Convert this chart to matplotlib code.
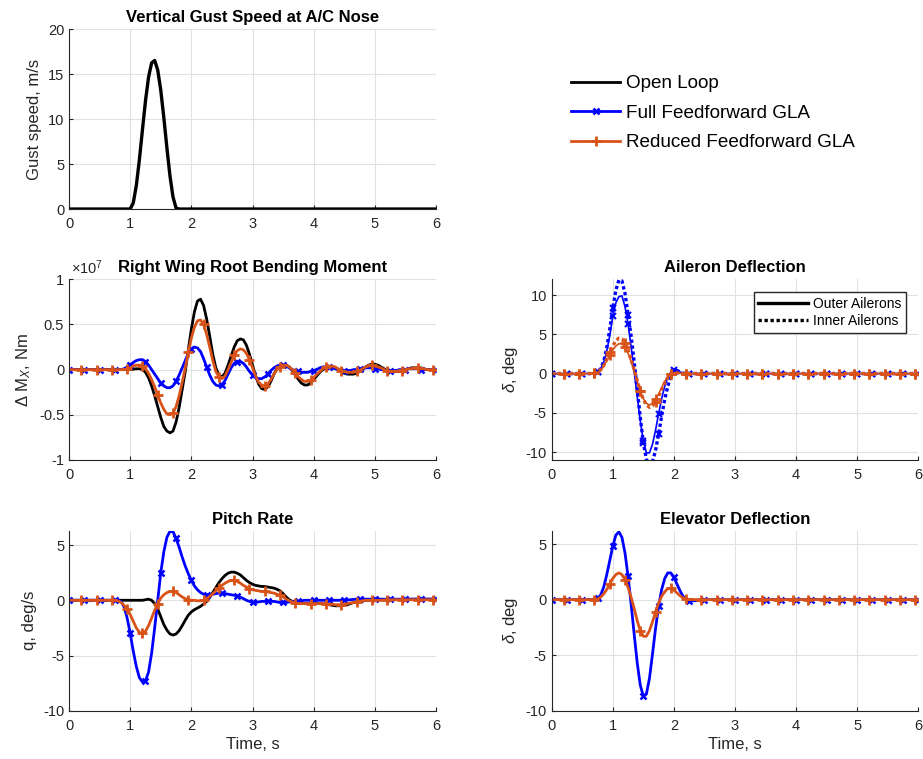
import numpy as np
import matplotlib
matplotlib.use('Agg')
import matplotlib.pyplot as plt
from matplotlib.lines import Line2D
from matplotlib.ticker import FuncFormatter

plt.rcParams['font.family'] = ['Liberation Sans', 'DejaVu Sans']
plt.rcParams['axes.unicode_minus'] = False
plt.rcParams['mathtext.fontset'] = 'custom'
plt.rcParams['mathtext.rm'] = 'Liberation Sans'
plt.rcParams['mathtext.it'] = 'Liberation Sans:italic'
plt.rcParams['mathtext.bf'] = 'Liberation Sans:bold'

# time axis, 0.05 s steps
time = np.linspace(0, 6, 121)

# Vertical gust speed (m/s), one line per second
gust_speed = [
    0, 0, 0, 0, 0, 0, 0, 0, 0, 0, 0, 0, 0, 0, 0, 0, 0, 0, 0, 0,
    0, 0.68, 2.61, 5.48, 8.81, 12.05, 14.68, 16.26, 16.53, 15.47, 13.2, 10.15, 6.8, 3.69, 1.33, 0.11, 0, 0, 0, 0,
    0, 0, 0, 0, 0, 0, 0, 0, 0, 0, 0, 0, 0, 0, 0, 0, 0, 0, 0, 0,
    0, 0, 0, 0, 0, 0, 0, 0, 0, 0, 0, 0, 0, 0, 0, 0, 0, 0, 0, 0,
    0, 0, 0, 0, 0, 0, 0, 0, 0, 0, 0, 0, 0, 0, 0, 0, 0, 0, 0, 0,
    0, 0, 0, 0, 0, 0, 0, 0, 0, 0, 0, 0, 0, 0, 0, 0, 0, 0, 0, 0,
    0]

# Right wing root bending moment (x1e7 Nm)
bm_open = [
    0, 0, 0, 0, 0, 0, 0, 0, 0, 0, 0, 0, 0, 0, 0, 0, 0, 0, 0, 0,
    0, 0.005, 0.01, 0.01, 0.0, -0.03, -0.09, -0.18, -0.29, -0.41, -0.53, -0.63, -0.68, -0.70, -0.68, -0.58, -0.42, -0.22, -0.02, 0.22,
    0.45, 0.64, 0.76, 0.78, 0.71, 0.56, 0.37, 0.17, 0.02, -0.06, -0.08, -0.04, 0.05, 0.15, 0.25, 0.32, 0.34, 0.33, 0.27, 0.17,
    0.05, -0.07, -0.16, -0.21, -0.22, -0.19, -0.13, -0.05, 0.01, 0.04, 0.05, 0.05, 0.03, -0.01, -0.06, -0.11, -0.15, -0.17, -0.17, -0.15,
    -0.11, -0.07, -0.03, 0.0, 0.02, 0.03, 0.03, 0.02, 0.0, -0.02, -0.04, -0.05, -0.05, -0.05, -0.04, -0.02, 0.0, 0.03, 0.05, 0.06,
    0.06, 0.05, 0.03, 0.01, -0.01, -0.02, -0.02, -0.02, -0.02, -0.01, 0.0, 0.01, 0.02, 0.02, 0.02, 0.02, 0.01, 0.0, 0.0, 0.0,
    0.0]
bm_full = [
    0, 0, 0, 0, 0, 0, 0, 0, 0, 0, 0, 0, 0, 0, 0, 0, 0, 0, 0.01, 0.03,
    0.05, 0.08, 0.10, 0.11, 0.11, 0.09, 0.05, 0.0, -0.05, -0.10, -0.15, -0.18, -0.20, -0.20, -0.18, -0.13, -0.06, 0.02, 0.10, 0.18,
    0.23, 0.25, 0.24, 0.20, 0.12, 0.03, -0.06, -0.13, -0.17, -0.18, -0.17, -0.12, -0.05, 0.02, 0.07, 0.09, 0.09, 0.07, 0.03, -0.02,
    -0.06, -0.09, -0.10, -0.10, -0.08, -0.05, -0.01, 0.02, 0.04, 0.05, 0.05, 0.04, 0.02, 0.0, -0.01, -0.02, -0.03, -0.03, -0.03, -0.02,
    -0.01, 0.0, 0.02, 0.03, 0.03, 0.03, 0.02, 0.01, 0.0, -0.01, -0.01, -0.01, -0.01, 0.0, 0.0, 0.01, 0.01, 0.02, 0.02, 0.02,
    0.01, 0.01, 0.0, 0.0, -0.01, -0.01, -0.01, -0.01, 0.0, 0.0, 0.0, 0.01, 0.01, 0.01, 0.01, 0.0, 0.0, 0.0, 0.0, 0.0,
    0.0]
bm_reduced = [
    0, 0, 0, 0, 0, 0, 0, 0, 0, 0, 0, 0, 0, 0, 0, 0, 0, 0, 0, 0.01,
    0.02, 0.04, 0.05, 0.05, 0.04, 0.01, -0.04, -0.11, -0.19, -0.28, -0.37, -0.44, -0.49, -0.50, -0.48, -0.41, -0.29, -0.14, 0.02, 0.19,
    0.35, 0.47, 0.54, 0.55, 0.50, 0.39, 0.25, 0.10, -0.02, -0.08, -0.10, -0.07, 0.0, 0.08, 0.16, 0.21, 0.23, 0.22, 0.18, 0.11,
    0.02, -0.07, -0.14, -0.17, -0.18, -0.16, -0.11, -0.05, 0.0, 0.03, 0.05, 0.05, 0.03, 0.0, -0.04, -0.08, -0.11, -0.13, -0.13, -0.12,
    -0.09, -0.05, -0.02, 0.01, 0.03, 0.04, 0.04, 0.03, 0.01, -0.01, -0.02, -0.03, -0.03, -0.03, -0.02, -0.01, 0.01, 0.03, 0.04, 0.05,
    0.04, 0.03, 0.02, 0.0, -0.01, -0.02, -0.02, -0.02, -0.01, -0.01, 0.0, 0.01, 0.01, 0.02, 0.02, 0.01, 0.01, 0.0, 0.0, 0.0,
    0.0]

# Aileron deflection (deg)
ail_outer_full = [
    0, 0, 0, 0, 0, 0, 0, 0, 0, 0, 0, 0, 0, 0, 0.05, 0.2, 0.6, 1.4, 2.8, 4.8,
    7.3, 9.0, 9.8, 9.9, 8.5, 6.3, 3.4, 0.3, -2.9, -6.0, -8.6, -10.1, -10.1, -9.0, -7.2, -5.1, -3.2, -1.6, -0.5, 0.2,
    0.5, 0.4, 0.2, 0.05, 0, 0, 0, 0, 0, 0, 0, 0, 0, 0, 0, 0, 0, 0, 0, 0,
    0, 0, 0, 0, 0, 0, 0, 0, 0, 0, 0, 0, 0, 0, 0, 0, 0, 0, 0, 0,
    0, 0, 0, 0, 0, 0, 0, 0, 0, 0, 0, 0, 0, 0, 0, 0, 0, 0, 0, 0,
    0, 0, 0, 0, 0, 0, 0, 0, 0, 0, 0, 0, 0, 0, 0, 0, 0, 0, 0, 0,
    0]
ail_inner_full = [
    0, 0, 0, 0, 0, 0, 0, 0, 0, 0, 0, 0, 0, 0, 0.05, 0.2, 0.6, 1.5, 3.2, 5.6,
    8.3, 10.6, 11.9, 11.8, 10.2, 7.5, 4.8, 1.5, -2.0, -5.6, -8.8, -10.9, -11.7, -11.2, -9.8, -7.7, -5.4, -3.3, -1.6, -0.4,
    0.2, 0.4, 0.2, 0.05, 0, 0, 0, 0, 0, 0, 0, 0, 0, 0, 0, 0, 0, 0, 0, 0,
    0, 0, 0, 0, 0, 0, 0, 0, 0, 0, 0, 0, 0, 0, 0, 0, 0, 0, 0, 0,
    0, 0, 0, 0, 0, 0, 0, 0, 0, 0, 0, 0, 0, 0, 0, 0, 0, 0, 0, 0,
    0, 0, 0, 0, 0, 0, 0, 0, 0, 0, 0, 0, 0, 0, 0, 0, 0, 0, 0, 0,
    0]
ail_outer_reduced = [
    0, 0, 0, 0, 0, 0, 0, 0, 0, 0, 0, 0, 0, 0, 0.05, 0.15, 0.4, 0.9, 1.6, 2.3,
    3.0, 3.5, 3.8, 3.8, 3.4, 2.6, 1.5, 0.3, -1.0, -2.2, -3.2, -3.8, -4.0, -3.8, -3.3, -2.6, -1.8, -1.0, -0.4, 0.0,
    0.1, 0.1, 0.05, 0, 0, 0, 0, 0, 0, 0, 0, 0, 0, 0, 0, 0, 0, 0, 0, 0,
    0, 0, 0, 0, 0, 0, 0, 0, 0, 0, 0, 0, 0, 0, 0, 0, 0, 0, 0, 0,
    0, 0, 0, 0, 0, 0, 0, 0, 0, 0, 0, 0, 0, 0, 0, 0, 0, 0, 0, 0,
    0, 0, 0, 0, 0, 0, 0, 0, 0, 0, 0, 0, 0, 0, 0, 0, 0, 0, 0, 0,
    0]
ail_inner_reduced = [
    0, 0, 0, 0, 0, 0, 0, 0, 0, 0, 0, 0, 0, 0, 0.05, 0.15, 0.45, 1.0, 1.8, 2.7,
    3.5, 4.2, 4.5, 4.4, 3.9, 3.0, 1.8, 0.5, -0.9, -2.2, -3.3, -4.0, -4.3, -4.1, -3.6, -2.9, -2.0, -1.2, -0.5, -0.1,
    0.1, 0.1, 0.05, 0, 0, 0, 0, 0, 0, 0, 0, 0, 0, 0, 0, 0, 0, 0, 0, 0,
    0, 0, 0, 0, 0, 0, 0, 0, 0, 0, 0, 0, 0, 0, 0, 0, 0, 0, 0, 0,
    0, 0, 0, 0, 0, 0, 0, 0, 0, 0, 0, 0, 0, 0, 0, 0, 0, 0, 0, 0,
    0, 0, 0, 0, 0, 0, 0, 0, 0, 0, 0, 0, 0, 0, 0, 0, 0, 0, 0, 0,
    0]

# Pitch rate (deg/s)
q_open = [
    0, 0, 0, 0, 0, 0, 0, 0, 0, 0, 0, 0, 0, 0, 0, 0, 0, 0, 0, 0,
    0, 0, 0, 0, 0, 0.05, 0.1, 0.0, -0.3, -0.8, -1.5, -2.2, -2.7, -3.05, -3.15, -3.05, -2.75, -2.3, -1.8, -1.35,
    -1.05, -0.85, -0.7, -0.55, -0.35, -0.1, 0.25, 0.7, 1.15, 1.6, 1.95, 2.25, 2.45, 2.55, 2.55, 2.45, 2.3, 2.05, 1.8, 1.6,
    1.45, 1.35, 1.3, 1.25, 1.25, 1.2, 1.15, 1.1, 1.0, 0.85, 0.6, 0.3, 0.05, -0.1, -0.2, -0.25, -0.3, -0.3, -0.3, -0.3,
    -0.3, -0.3, -0.3, -0.32, -0.35, -0.4, -0.45, -0.5, -0.5, -0.5, -0.45, -0.4, -0.3, -0.2, -0.15, -0.1, -0.05, 0.0, 0.0, 0.0,
    0.0, 0.02, 0.03, 0.04, 0.05, 0.05, 0.06, 0.07, 0.08, 0.08, 0.08, 0.09, 0.09, 0.1, 0.1, 0.1, 0.1, 0.1, 0.1, 0.1,
    0.1]
q_full = [
    0, 0, 0, 0, 0, 0, 0, 0, 0, 0, 0, 0, 0, 0, 0, 0, 0, -0.1, -0.6, -1.6,
    -3.0, -4.6, -6.0, -7.0, -7.4, -7.3, -6.5, -4.8, -2.5, 0.0, 2.5, 4.4, 5.7, 6.25, 6.2, 5.6, 4.8, 3.9, 3.1, 2.4,
    1.8, 1.3, 0.95, 0.7, 0.55, 0.5, 0.5, 0.55, 0.6, 0.65, 0.65, 0.6, 0.55, 0.5, 0.45, 0.4, 0.3, 0.15, 0.0, -0.1,
    -0.2, -0.2, -0.15, -0.1, -0.1, -0.1, -0.1, -0.1, -0.15, -0.2, -0.2, -0.2, -0.15, -0.1, -0.1, -0.1, -0.05, 0.0, 0.0, 0.0,
    0.0, 0.0, 0.0, 0.0, 0.0, 0.0, 0.0, 0.0, 0.0, 0.0, 0.0, 0.02, 0.05, 0.08, 0.1, 0.1, 0.1, 0.1, 0.1, 0.1,
    0.1, 0.1, 0.1, 0.1, 0.1, 0.1, 0.1, 0.1, 0.1, 0.1, 0.1, 0.1, 0.1, 0.1, 0.1, 0.1, 0.1, 0.1, 0.1, 0.1,
    0.1]
q_reduced = [
    0, 0, 0, 0, 0, 0, 0, 0, 0, 0, 0, 0, 0, 0, 0, 0, -0.05, -0.2, -0.45, -0.8,
    -1.3, -1.9, -2.5, -2.9, -3.0, -2.8, -2.3, -1.6, -0.9, -0.3, 0.2, 0.5, 0.7, 0.8, 0.8, 0.7, 0.5, 0.3, 0.15, 0.05,
    0.0, 0.0, -0.05, -0.05, 0.0, 0.15, 0.35, 0.6, 0.85, 1.1, 1.35, 1.55, 1.7, 1.8, 1.8, 1.7, 1.55, 1.35, 1.2, 1.05,
    0.95, 0.9, 0.85, 0.8, 0.8, 0.75, 0.7, 0.65, 0.55, 0.45, 0.3, 0.1, -0.05, -0.15, -0.25, -0.3, -0.3, -0.3, -0.3, -0.3,
    -0.3, -0.3, -0.3, -0.3, -0.3, -0.35, -0.35, -0.4, -0.4, -0.4, -0.35, -0.3, -0.25, -0.2, -0.15, -0.1, -0.05, 0.0, 0.0, 0.0,
    0.0, 0.0, 0.0, 0.02, 0.03, 0.04, 0.05, 0.05, 0.05, 0.05, 0.05, 0.05, 0.05, 0.05, 0.05, 0.05, 0.05, 0.05, 0.05, 0.05,
    0.05]

# Elevator deflection (deg)
elev_full = [
    0, 0, 0, 0, 0, 0, 0, 0, 0, 0, 0, 0, 0, 0, 0, 0.1, 0.4, 1.1, 2.2, 3.5,
    4.8, 5.8, 6.1, 5.6, 4.2, 2.1, -0.4, -3.1, -5.7, -7.7, -8.7, -8.5, -7.1, -4.9, -2.6, -0.6, 0.9, 1.9, 2.4, 2.4,
    2.0, 1.4, 0.8, 0.3, 0.0, -0.1, -0.1, -0.1, -0.05, 0, 0, 0, 0, 0, 0, 0, 0, 0, 0, 0,
    0, 0, 0, 0, 0, 0, 0, 0, 0, 0, 0, 0, 0, 0, 0, 0, 0, 0, 0, 0,
    0, 0, 0, 0, 0, 0, 0, 0, 0, 0, 0, 0, 0, 0, 0, 0, 0, 0, 0, 0,
    0, 0, 0, 0, 0, 0, 0, 0, 0, 0, 0, 0, 0, 0, 0, 0, 0, 0, 0, 0,
    0]
elev_reduced = [
    0, 0, 0, 0, 0, 0, 0, 0, 0, 0, 0, 0, 0, 0, 0, 0.05, 0.2, 0.5, 0.9, 1.4,
    1.9, 2.25, 2.4, 2.25, 1.8, 1.1, 0.2, -0.8, -1.9, -2.8, -3.3, -3.3, -2.8, -2.0, -1.1, -0.3, 0.3, 0.7, 1.0, 1.0,
    0.85, 0.6, 0.35, 0.15, 0.05, 0, 0, 0, 0, 0, 0, 0, 0, 0, 0, 0, 0, 0, 0, 0,
    0, 0, 0, 0, 0, 0, 0, 0, 0, 0, 0, 0, 0, 0, 0, 0, 0, 0, 0, 0,
    0, 0, 0, 0, 0, 0, 0, 0, 0, 0, 0, 0, 0, 0, 0, 0, 0, 0, 0, 0,
    0, 0, 0, 0, 0, 0, 0, 0, 0, 0, 0, 0, 0, 0, 0, 0, 0, 0, 0, 0,
    0]

legend_labels = ['Open Loop', 'Full Feedforward GLA', 'Reduced Feedforward GLA']

BLUE = '#0000ff'
ORANGE = '#d95319'
DARK = '#262626'
DOTS = (0, (1, 0.8))

open_style = dict(color='k', lw=2)
full_style = dict(color=BLUE, lw=2, marker='x', ms=5, mew=1.8, markevery=(0, 5))
red_style = dict(color=ORANGE, lw=2, marker='+', ms=7, mew=2, markevery=(4, 5))


def setup(ax, title, ylabel, yticks, ylim, xlabel=False):
    ax.set_xlim(0, 6)
    ax.set_ylim(*ylim)
    ax.set_xticks(range(7))
    ax.set_yticks(yticks)
    ax.yaxis.set_major_formatter(FuncFormatter(lambda v, p: '%g' % v))
    ax.grid(True, color='#e1e1e1', lw=0.8)
    ax.set_axisbelow(True)
    for s in ['top', 'right']:
        ax.spines[s].set_visible(False)
    for s in ['left', 'bottom']:
        ax.spines[s].set_color(DARK)
        ax.spines[s].set_linewidth(0.8)
    ax.tick_params(direction='in', length=3, width=0.8, colors=DARK, labelsize=10.5)
    ax.tick_params(axis='x', pad=6)
    ax.set_title(title, fontweight='bold', fontsize=12, pad=5)
    ax.set_ylabel(ylabel, fontsize=12, color=DARK)
    if xlabel:
        ax.set_xlabel('Time, s', fontsize=12, color=DARK, labelpad=3)


fig = plt.figure(figsize=(9.23, 7.59), dpi=100)

ax_gust = fig.add_axes([0.0748, 0.7246, 0.3976, 0.2368])
ax_bm = fig.add_axes([0.0748, 0.394, 0.3976, 0.238])
ax_ail = fig.add_axes([0.5977, 0.394, 0.3972, 0.238])
ax_q = fig.add_axes([0.0748, 0.0636, 0.3976, 0.2372])
ax_el = fig.add_axes([0.5977, 0.0636, 0.3972, 0.2372])

#Gust
ax_gust.plot(time, gust_speed, color='k', lw=2.4)
setup(ax_gust, 'Vertical Gust Speed at A/C Nose', 'Gust speed, m/s', [0, 5, 10, 15, 20], (0, 20))

#Bending moment
ax_bm.plot(time, bm_open, **open_style)
ax_bm.plot(time, bm_full, **full_style)
ax_bm.plot(time, bm_reduced, **red_style)
setup(ax_bm, 'Right Wing Root Bending Moment', r'$\Delta$ M$_X$, Nm', [-1, -0.5, 0, 0.5, 1], (-1, 1))
ax_bm.text(0.005, 1.015, r'$\times$10$^{7}$', transform=ax_bm.transAxes, fontsize=10.5, color=DARK,
           ha='left', va='bottom')

#Aileron
ax_ail.plot(time, ail_outer_full, color=BLUE, lw=1.2, marker='x', ms=5, mew=1.5, markevery=(0, 5))
ax_ail.plot(time, ail_inner_full, color=BLUE, lw=2.4, ls=DOTS, marker='x', ms=5, mew=1.5, markevery=(0, 5))
ax_ail.plot(time, ail_outer_reduced, color=ORANGE, lw=1.2, marker='+', ms=7, mew=2, markevery=(4, 5))
ax_ail.plot(time, ail_inner_reduced, color=ORANGE, lw=2.4, ls=DOTS, marker='+', ms=7, mew=2, markevery=(4, 5))
setup(ax_ail, 'Aileron Deflection', r'$\delta$, deg', [-10, -5, 0, 5, 10], (-11, 12))
ail_handles = [Line2D([], [], color='k', lw=2.4), Line2D([], [], color='k', lw=2.4, ls=DOTS)]
ax_ail.legend(ail_handles, ['Outer Ailerons', 'Inner Ailerons'], loc='upper right', fontsize=10,
              fancybox=False, edgecolor=DARK, framealpha=1, handlelength=3.6, borderaxespad=0.9,
              labelspacing=0.25, handletextpad=0.3, borderpad=0.35)

#Pitch rate
ax_q.plot(time, q_open, **open_style)
ax_q.plot(time, q_full, **full_style)
ax_q.plot(time, q_reduced, **red_style)
setup(ax_q, 'Pitch Rate', 'q, deg/s', [-10, -5, 0, 5], (-10, 6.3), xlabel=True)

#Elevator
ax_el.plot(time, elev_full, **full_style)
ax_el.plot(time, elev_reduced, **red_style)
setup(ax_el, 'Elevator Deflection', r'$\delta$, deg', [-10, -5, 0, 5], (-10, 6.2), xlabel=True)

#Main legend
handles = [Line2D([], [], color='k', lw=2),
           Line2D([], [], color=BLUE, lw=2, marker='x', ms=5, mew=1.8),
           Line2D([], [], color=ORANGE, lw=2, marker='+', ms=7, mew=2)]
fig.legend(handles, legend_labels, loc='upper left', bbox_to_anchor=(0.6186, 0.901), frameon=False,
           fontsize=13.6, handlelength=2.6, handletextpad=0.32, labelspacing=0.65, borderpad=0,
           borderaxespad=0)

fig.savefig('out.png', dpi=100)
